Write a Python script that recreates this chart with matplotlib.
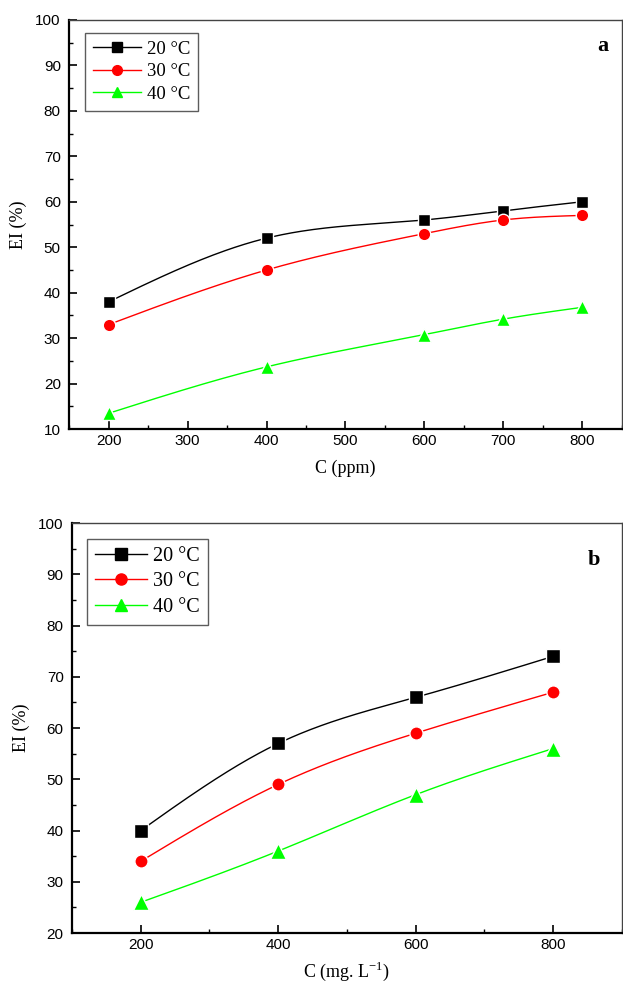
import matplotlib.pyplot as plt
import numpy as np
from matplotlib.ticker import MultipleLocator

# panel a
conc_a = [200, 400, 600, 700, 800]
ei_a_20 = [38, 52, 56, 58, 60]
ei_a_30 = [33, 45, 53, 56, 57]
ei_a_40 = [13.5, 23.7, 30.8, 34.2, 36.8]

# panel b
conc_b = [200, 400, 600, 800]
ei_b_20 = [40, 57, 66, 74]
ei_b_30 = [34, 49, 59, 67]
ei_b_40 = [26, 36, 47, 56]

labels = ["20 °C", "30 °C", "40 °C"]
colors = ["black", "red", "#00ff00"]
markers = ["s", "o", "^"]


def spline(x, y, n=200):
    # natural cubic spline through the points, for a smooth connecting line
    x = np.asarray(x, float)
    y = np.asarray(y, float)
    k = len(x)
    h = np.diff(x)
    A = np.zeros((k, k))
    r = np.zeros(k)
    A[0, 0] = A[-1, -1] = 1
    for i in range(1, k - 1):
        A[i, i - 1] = h[i - 1]
        A[i, i] = 2 * (h[i - 1] + h[i])
        A[i, i + 1] = h[i]
        r[i] = 6 * ((y[i + 1] - y[i]) / h[i] - (y[i] - y[i - 1]) / h[i - 1])
    m = np.linalg.solve(A, r)
    xs = np.linspace(x[0], x[-1], n)
    idx = np.clip(np.searchsorted(x, xs) - 1, 0, k - 2)
    t0 = x[idx]
    t1 = x[idx + 1]
    hh = t1 - t0
    a = (t1 - xs) / hh
    b = (xs - t0) / hh
    ys = (a * y[idx] + b * y[idx + 1]
          + ((a ** 3 - a) * m[idx] + (b ** 3 - b) * m[idx + 1]) * hh ** 2 / 6)
    return xs, ys


plt.rcParams['font.family'] = 'Liberation Serif'
plt.rcParams['mathtext.fontset'] = 'custom'
plt.rcParams['mathtext.rm'] = 'Liberation Serif'

fig = plt.figure(figsize=(6.23, 9.89), dpi=100)
ax1 = fig.add_axes([0.111, 0.566, 0.887, 0.414])
ax2 = fig.add_axes([0.1156, 0.0566, 0.8824, 0.4144])


def draw(ax, x, series, msize, legsize, legfont, spacing, anchor):
    for ys, lab, c, mk in zip(series, labels, colors, markers):
        sx, sy = spline(x, ys)
        ax.plot(sx, sy, color=c, lw=1.0, zorder=2)
        ms = msize + 1.5 if mk == "^" else msize
        ax.plot(x, ys, linestyle="none", marker=mk, color=c, ms=ms,
                mec="white", mew=1.0, zorder=3)
        ax.plot([], [], color=c, lw=1.0, marker=mk, ms=legsize, label=lab)
    for side in ["left", "bottom"]:
        ax.spines[side].set_linewidth(1.6)
    for side in ["top", "right"]:
        ax.spines[side].set_linewidth(1.0)
        ax.spines[side].set_color("#444444")
    ax.tick_params(which="both", direction="in", top=False, right=False)
    ax.tick_params(which="major", length=6, width=1.2)
    ax.tick_params(which="minor", length=3, width=1.0)
    ax.tick_params(axis="y", pad=6)
    leg = ax.legend(loc="upper left", fontsize=legfont, frameon=True,
                    fancybox=False, handlelength=2.6, handletextpad=0.3,
                    borderpad=0.4, labelspacing=spacing, borderaxespad=0,
                    bbox_to_anchor=anchor)
    leg.get_frame().set_edgecolor("#333333")
    leg.get_frame().set_linewidth(1.0)


draw(ax1, conc_a, [ei_a_20, ei_a_30, ei_a_40], 9, 7, 13.5, 0.3, (0.029, 0.968))
ax1.set_xlim(150, 850)
ax1.set_ylim(10, 100)
ax1.xaxis.set_major_locator(MultipleLocator(100))
ax1.xaxis.set_minor_locator(MultipleLocator(50))
ax1.yaxis.set_major_locator(MultipleLocator(10))
ax1.yaxis.set_minor_locator(MultipleLocator(5))
for t in ax1.get_xticklabels() + ax1.get_yticklabels():
    t.set_fontfamily("Liberation Sans")
    t.set_fontsize(11)
ax1.set_xlabel("C (ppm)", fontsize=13, labelpad=8)
ax1.set_ylabel("EI (%)", fontsize=13, labelpad=6)
ax1.text(0.975, 0.935, "a", transform=ax1.transAxes, fontsize=16,
         fontweight="bold", ha="right", va="center")

draw(ax2, conc_b, [ei_b_20, ei_b_30, ei_b_40], 9.5, 8, 14.5, 0.3, (0.027, 0.961))
ax2.set_xlim(100, 900)
ax2.set_ylim(20, 100)
ax2.xaxis.set_major_locator(MultipleLocator(200))
ax2.xaxis.set_minor_locator(MultipleLocator(100))
ax2.yaxis.set_major_locator(MultipleLocator(10))
ax2.yaxis.set_minor_locator(MultipleLocator(5))
for t in ax2.get_xticklabels() + ax2.get_yticklabels():
    t.set_fontfamily("Liberation Sans")
    t.set_fontsize(11)
ax2.set_xlabel("C (mg. L$^{\\mathrm{-1}}$)", fontsize=13, labelpad=6)
ax2.set_ylabel("EI (%)", fontsize=13, labelpad=6)
ax2.text(0.96, 0.91, "b", transform=ax2.transAxes, fontsize=16,
         fontweight="bold", ha="right", va="center")

fig.savefig("out.png", dpi=100)
